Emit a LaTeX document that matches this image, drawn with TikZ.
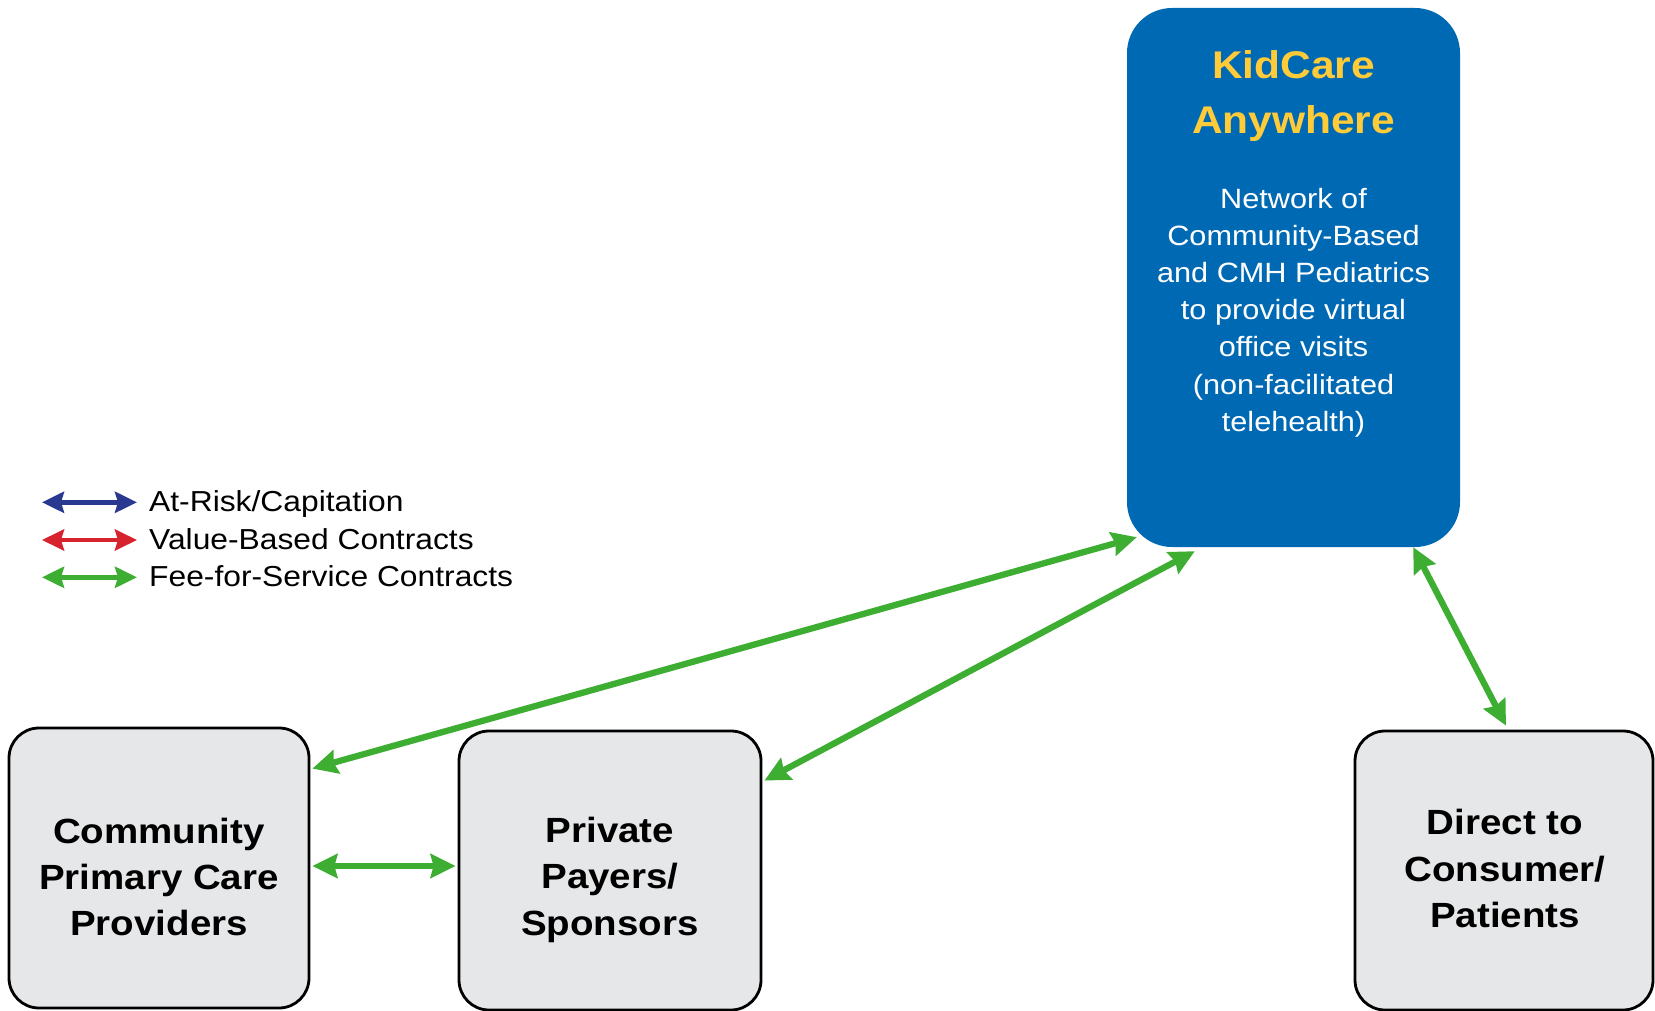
\documentclass[tikz,border=0pt]{standalone}
\usepackage{fontspec}
\setmainfont[FakeStretch=1.1]{Liberation Sans}
\usetikzlibrary{arrows.meta,calc}
\definecolor{kidblue}{RGB}{0,105,180}
\definecolor{kidyellow}{RGB}{255,203,56}
\definecolor{arrgreen}{RGB}{62,174,51}
\definecolor{legblue}{RGB}{42,57,144}
\definecolor{legred}{RGB}{214,35,45}
\definecolor{boxgray}{RGB}{230,231,232}
\begin{document}
\begin{tikzpicture}[x=1pt,y=-1pt,
  partybox/.style={draw=black, line width=2.8pt, fill=boxgray, rounded corners=30pt, inner sep=0pt},
  partytext/.style={font={\fontsize{35}{46.4}\selectfont\bfseries}, align=center, inner sep=0pt},
  conn/.style={{Stealth[length=25pt,width=24pt,inset=3pt]}-{Stealth[length=25pt,width=24pt,inset=3pt]}, draw=arrgreen, line width=6.3pt},
  legarrow/.style={{Stealth[length=22pt,width=21pt,inset=3pt]}-{Stealth[length=22pt,width=21pt,inset=3pt]}, line width=4.5pt},
  legtext/.style={font={\fontsize{28.9}{34}\selectfont}, anchor=base west, inner sep=0pt}]
\useasboundingbox[fill=white] (0,0) rectangle (1655,1011);

% KidCare box
\node[fill=kidblue, rounded corners=45pt, minimum width=333pt, minimum height=539pt, inner sep=0pt] (kid) at (1293.5,277.5) {};
\node[font={\fontsize{38.6}{55}\selectfont\bfseries}, text=kidyellow, align=center, inner sep=0pt] (kidtitle) at (1293.5,96.5) {KidCare\\Anywhere};
\node[font={\fontsize{27.9}{37.2}\selectfont}, text=white, align=center, inner sep=0pt] (kidbody) at (1293.5,312.4)
  {Network of\\Community-Based\\and CMH Pediatrics\\to provide virtual\\office visits\\(non-facilitated\\telehealth)};

% party boxes
\node[partybox, minimum width=300pt, minimum height=280pt] (cpc) at (159,868) {};
\node[partybox, minimum width=302pt, minimum height=279pt] (ppp) at (610,870.5) {};
\node[partybox, minimum width=298pt, minimum height=279pt] (dtc) at (1504,870.5) {};
\node[partytext] (cpct) at (159,876.9) {Community\\Primary Care\\Providers};
\node[partytext] (pppt) at (610,879.6) {Private\\Payers/\\Sponsors};
\node[partytext] (dtct) at (1505,868.6) {Direct to\\Consumer/\\Patients};

% connectors
\draw[conn] ($(kid.south west)+(10,-10)$) -- ($(cpc.north east)+(2,42)$);
\draw[conn] ($(kid.south west)+(68,4)$) -- ($(ppp.north east)+(2,51)$);
\draw[conn] ($(kid.south east)+(-47,0)$) -- ($(dtc.north)+(2,-4)$);
\draw[conn] ($(cpc.east)+(2,-2)$) -- ($(ppp.west)+(-2,-4.5)$);

% legend
\coordinate (lb1) at (42,502.3); \coordinate (lb2) at (137,502.3);
\coordinate (lr1) at (42,540);   \coordinate (lr2) at (137,540);
\coordinate (lg1) at (42,577.3); \coordinate (lg2) at (137,577.3);
\draw[legarrow, draw=legblue] (lb1) -- (lb2);
\draw[legarrow, draw=legred] (lr1) -- (lr2);
\draw[legarrow, draw=arrgreen] (lg1) -- (lg2);
\node[legtext] (ltb) at (149,511.7) {At-Risk/Capitation};
\node[legtext] (ltr) at (149,549) {Value-Based Contracts};
\node[legtext] (ltg) at (149,586) {Fee-for-Service Contracts};
\end{tikzpicture}
\end{document}
